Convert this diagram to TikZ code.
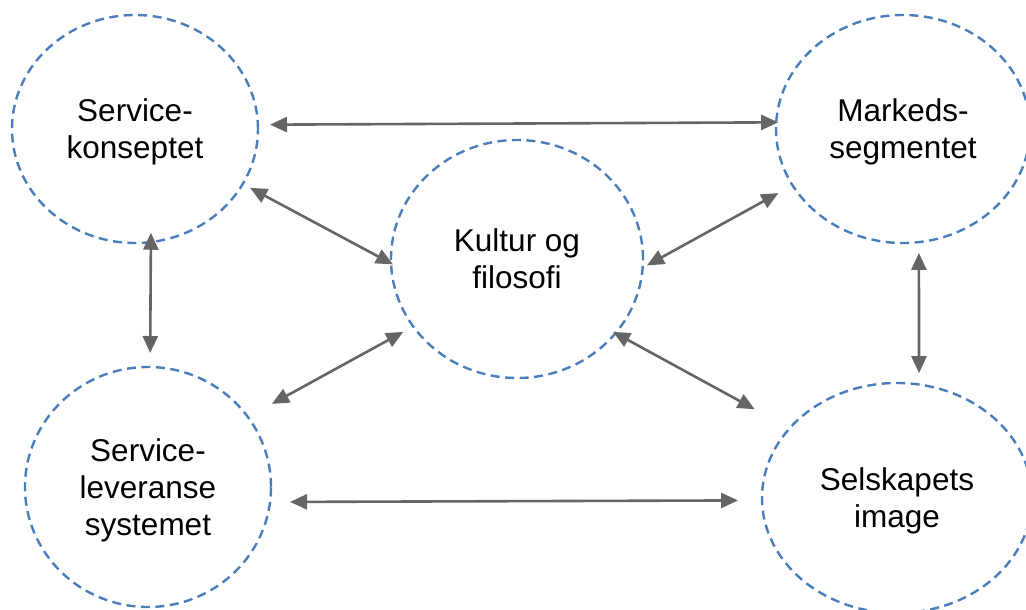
\documentclass[tikz,border=0pt]{standalone}
\usepackage{fontspec}
\setmainfont{Liberation Sans}
\usetikzlibrary{shapes.geometric,arrows.meta}
\definecolor{ringblue}{HTML}{4A7EBB}
\definecolor{linkgray}{HTML}{656565}
\begin{document}
\begin{tikzpicture}[x=1pt,y=-1pt,
  ring/.style={ellipse, draw=ringblue, line width=2.4pt, dash pattern=on 9pt off 5.5pt,
    inner sep=0pt, outer sep=0pt, align=center, text depth=0pt,
    font=\fontsize{31.5}{37}\selectfont},
  link/.style={draw=linkgray, line width=2.6pt,
    {Triangle[length=17pt,width=15pt]}-{Triangle[length=17pt,width=15pt]}}]
\useasboundingbox (0,0) rectangle (1026,610);

% the five fields
\node[ring, minimum width=246pt, minimum height=228pt] (sk) at (135,129) {Service-\\konseptet};
\node[ring, minimum width=254pt, minimum height=228pt] (ms) at (903,129) {Markeds-\\segmentet};
\node[ring, minimum width=252pt, minimum height=238pt] (kf) at (517,259) {Kultur og\\filosofi};
\node[ring, minimum width=246pt, minimum height=240pt] (sl) at (148,487) {Service-\\leveranse\\systemet};
\node[ring, minimum width=270pt, minimum height=230pt] (si) at (897,498) {Selskapets\\image};

% two-way links
\draw[link, shorten <=12.1pt, shorten >=-1.9pt] (sk.2.33) -- (ms.177.74);
\draw[link, shorten <=-9.3pt, shorten >=14pt] (sk.-82.95) -- (sl.89.52);
\draw[link, shorten <=10.8pt, shorten >=11.4pt] (ms.-82.45) -- (si.79.53);
\draw[link, shorten <=20pt, shorten >=24pt] (sl.-7.01) -- (si.181.7);
\draw[link, shorten <=8.3pt, shorten >=-2.1pt] (sk.-27.08) -- (kf.182.28);
\draw[link, shorten <=5pt, shorten >=16.2pt] (kf.-4.28) -- (ms.207.54);
\draw[link, shorten <=27.4pt, shorten >=11.4pt] (sl.35.03) -- (kf.213.67);
\draw[link, shorten <=-2.85pt, shorten >=39.8pt] (kf.-37.7) -- (si.147.41);
\end{tikzpicture}
\end{document}
